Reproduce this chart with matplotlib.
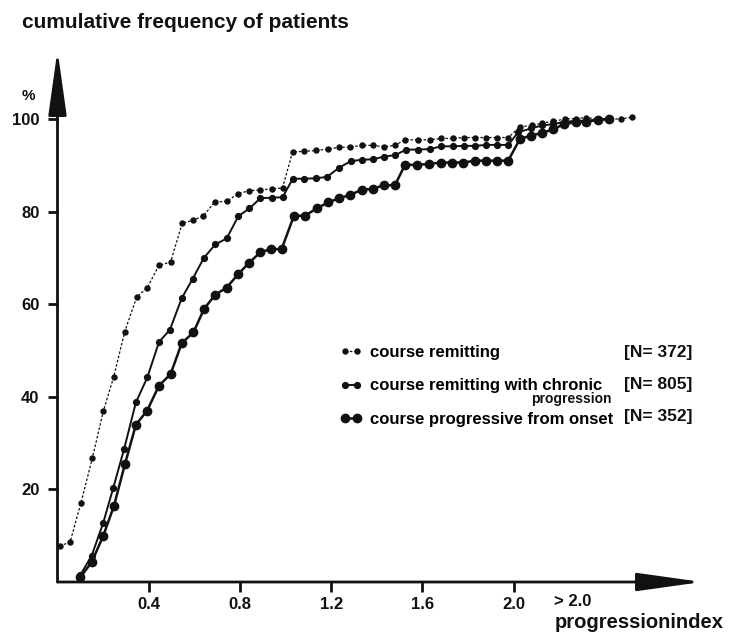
import matplotlib
matplotlib.use('Agg')
import matplotlib.pyplot as plt

# progression index vs cumulative % of patients
remit_x = [0.01, 0.055, 0.103, 0.153, 0.201, 0.246, 0.295, 0.347, 0.394, 0.445,
           0.496, 0.547, 0.593, 0.64, 0.69, 0.742, 0.793, 0.841, 0.89, 0.939,
           0.987, 1.031, 1.082, 1.134, 1.186, 1.236, 1.283, 1.334, 1.382, 1.432,
           1.48, 1.524, 1.58, 1.632, 1.683, 1.733, 1.783, 1.831, 1.88, 1.929,
           1.977, 2.028, 2.08, 2.126, 2.175, 2.226, 2.274, 2.32, 2.37, 2.42,
           2.47, 2.52]
remit_y = [7.8, 8.6, 17.1, 26.8, 36.9, 44.2, 54.1, 61.5, 63.6, 68.4,
           69.1, 77.5, 78.1, 79.1, 82.1, 82.2, 83.9, 84.5, 84.7, 84.9,
           85.1, 92.9, 93.0, 93.2, 93.5, 93.9, 93.9, 94.3, 94.3, 94.0,
           94.3, 95.5, 95.5, 95.5, 95.8, 95.8, 96.0, 96.0, 96.0, 96.0,
           96.0, 98.3, 98.6, 99.1, 99.5, 100.0, 100.1, 100.3, 100.0, 100.0,
           100.0, 100.4]

chronic_x = [0.10, 0.15, 0.20, 0.245, 0.292, 0.344, 0.394, 0.445, 0.493, 0.545,
             0.593, 0.642, 0.692, 0.742, 0.793, 0.842, 0.89, 0.939, 0.987, 1.032,
             1.082, 1.135, 1.182, 1.236, 1.286, 1.336, 1.384, 1.434, 1.482, 1.529,
             1.58, 1.632, 1.683, 1.733, 1.783, 1.831, 1.88, 1.929, 1.977, 2.02,
             2.078, 2.126, 2.175, 2.226, 2.274, 2.32, 2.37, 2.42]
chronic_y = [1.5, 5.7, 12.7, 20.4, 28.7, 38.8, 44.2, 51.8, 54.5, 61.3,
             65.5, 70.0, 72.9, 74.2, 79.0, 80.7, 82.9, 83.0, 83.1, 87.1,
             87.1, 87.2, 87.5, 89.5, 90.9, 91.2, 91.3, 91.9, 92.2, 93.4,
             93.4, 93.5, 94.1, 94.1, 94.2, 94.2, 94.4, 94.4, 94.4, 97.1,
             98.0, 98.6, 98.9, 99.4, 99.6, 99.6, 99.9, 99.9]

prog_x = [0.10, 0.15, 0.201, 0.248, 0.296, 0.344, 0.393, 0.445, 0.496, 0.545,
          0.596, 0.643, 0.691, 0.742, 0.793, 0.841, 0.89, 0.935, 0.983, 1.037,
          1.086, 1.137, 1.188, 1.236, 1.283, 1.334, 1.382, 1.43, 1.48, 1.524,
          1.578, 1.631, 1.68, 1.729, 1.78, 1.831, 1.879, 1.929, 1.977, 2.028,
          2.076, 2.126, 2.175, 2.222, 2.274, 2.32, 2.37, 2.42]
prog_y = [1.0, 4.3, 10.0, 16.5, 25.5, 34.0, 37.0, 42.4, 44.9, 51.6,
          53.9, 59.0, 62.0, 63.6, 66.5, 69.0, 71.2, 71.9, 71.9, 79.1,
          79.1, 80.7, 82.0, 82.9, 83.6, 84.7, 84.9, 85.7, 85.7, 90.1,
          90.1, 90.3, 90.6, 90.6, 90.6, 91.0, 91.0, 91.0, 91.0, 95.7,
          96.4, 97.0, 97.8, 98.9, 99.3, 99.4, 99.8, 100.0]

labels = ['course remitting', 'course remitting with chronic',
          'course progressive from onset']
n_values = [372, 805, 352]

x_ticks = [0.4, 0.8, 1.2, 1.6, 2.0]
x_ticklabels = ['0.4', '0.8', '1.2', '1.6', '2.0']
y_ticks = [20, 40, 60, 80, 100]

plt.rcParams['font.family'] = ['Liberation Sans', 'DejaVu Sans']
plt.rcParams['font.weight'] = 'bold'

W, H = 736, 635
fig = plt.figure(figsize=(W / 100, H / 100), dpi=100)
ax = fig.add_axes([57.5 / W, (H - 582) / H, (702 - 57.5) / W, (582 - 50) / H])
ax.set_xlim(0, (702 - 57.5) / 228)
ax.set_ylim(0, (582 - 50) / 4.63)

l1, = ax.plot(remit_x, remit_y, color='#111111', lw=0.9, ls=(0, (2, 1.5)),
              marker='o', ms=3.6, mfc='#111111', mec='#111111', clip_on=False)
l2, = ax.plot(chronic_x, chronic_y, color='#111111', lw=1.4, marker='o', ms=4.2,
              mfc='#111111', mec='#111111', clip_on=False)
l3, = ax.plot(prog_x, prog_y, color='#111111', lw=1.8, marker='o', ms=6.0,
              mfc='#111111', mec='#111111', clip_on=False)

for s in ax.spines.values():
    s.set_visible(False)

# axes drawn as arrows
arrow = dict(arrowstyle='-|>,head_length=2.0,head_width=0.28', color='#111111',
             lw=2.0, mutation_scale=20, shrinkA=0, shrinkB=0)
ax.annotate('', xy=(1, 0), xytext=(0, 0), xycoords='axes fraction', arrowprops=arrow)
ax.annotate('', xy=(0, 1), xytext=(0, 0), xycoords='axes fraction', arrowprops=arrow)

ax.set_xticks(x_ticks)
ax.set_xticklabels(x_ticklabels)
ax.set_yticks(y_ticks)
ax.tick_params(axis='x', direction='out', length=7, width=2, pad=4,
               labelsize=12, colors='#111111')
ax.tick_params(axis='y', direction='out', length=7, width=2, pad=6,
               labelsize=12, colors='#111111')
ax.text(2.26, -(602 - 582) / 532, '> 2.0', transform=ax.get_xaxis_transform(),
        ha='center', va='center', fontsize=12, fontweight='bold', color='#111111')

fig.text(22 / W, 1 - 22 / H, 'cumulative frequency of patients', fontsize=15,
         fontweight='bold', va='center', ha='left', color='#111111')
fig.text(28 / W, 1 - 96 / H, '%', fontsize=11, fontweight='bold', va='center',
         ha='center', color='#111111')
fig.text(724 / W, 1 - 623 / H, 'progressionindex', fontsize=14.5, fontweight='bold',
         va='center', ha='right', color='#111111')

leg = ax.legend([l1, l2, l3], labels, loc='upper left',
                bbox_to_anchor=(340 / W, 1 - 345 / H), bbox_transform=fig.transFigure,
                frameon=False, numpoints=2, handlelength=1.3, handletextpad=0.5,
                labelspacing=1.1, borderpad=0, borderaxespad=0,
                prop={'size': 12, 'weight': 'bold'})

row_y = [352, 384, 417]
for y, n in zip(row_y, n_values):
    fig.text(624 / W, 1 - y / H, '[N= %d]' % n, fontsize=12.5, fontweight='bold',
             va='center', ha='left', color='#111111')
fig.text(612 / W, 1 - 399 / H, 'progression', fontsize=10, fontweight='bold',
         va='center', ha='right', color='#111111')

fig.savefig('out.png', dpi=100)
